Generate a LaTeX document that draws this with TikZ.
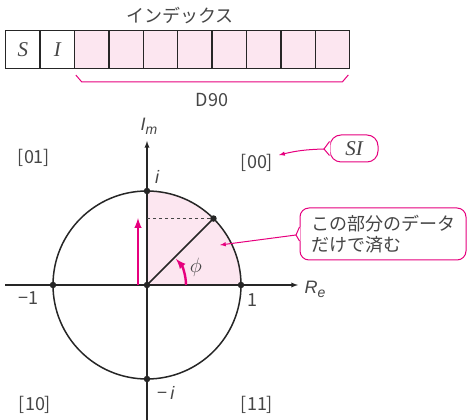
\documentclass[tikz,border=0pt]{standalone}
\usepackage{fontspec}
\setmainfont{Noto Sans CJK JP}
\newfontfamily\lsans{Liberation Sans}
\newfontfamily\lserif{Liberation Serif}
\newcommand{\lsi}{\lsans\itshape}
\newcommand{\lri}{\lserif\itshape\fontsize{21}{21}\selectfont}
\usepackage{xcolor}
\usepackage{tikz}
\usetikzlibrary{calc, positioning}

\definecolor{magenta1}{RGB}{230,0,126}
\definecolor{pink1}{RGB}{252,230,240}
\definecolor{ink}{RGB}{70,70,70}

\begin{document}
\begin{tikzpicture}[>=latex, x=1pt, y=1pt, font=\fontsize{18}{21}\selectfont, text=ink,
    cell/.style={draw=black!85, line width=1.3pt, minimum width=34.4pt, minimum height=38pt, inner sep=0pt, anchor=south west},
    dot/.style={circle, fill=black!85, inner sep=0pt, minimum size=6.5pt},
    callout/.style={draw=magenta1, line width=1pt, fill=white, rounded corners=9pt},
    pinkline/.style={magenta1, line width=1pt}]
    \useasboundingbox (0,0) rectangle (469,420);

    % 1. Tableau des bits
    \node[cell] (c0) at (5,351) {\lri S};
    \node[cell] (c1) at (39.4,351) {\lri I};
    \foreach \k in {2,...,9}
        \node[cell, fill=pink1] (c\k) at ({5+34.4*\k},351) {};
    \node (idx) at (180,404) {インデックス};
    \draw[pinkline] ($(c2.south west)+(2,-6)$) -- ++(6,-7) -- ($(c9.south east)+(-8,-13)$) -- ++(6,7);
    \node (d90) at (212,320) {D90};

    % 2. Cercle unite
    \coordinate (O) at (147,135);
    \fill[pink1] (O) -- ++(94,0) arc[start angle=0, end angle=90, radius=94] -- cycle;
    \coordinate (xl) at (5,135);
    \coordinate (xr) at (298,135);
    \coordinate (yb) at (147,0);
    \coordinate (yt) at (147,279);
    \draw[->, black!85, line width=1.3pt] (xl) -- (xr);
    \draw[->, black!85, line width=1.3pt] (yb) -- (yt);
    \node (re) at (315,131) {\lsi R\raisebox{-4pt}{\fontsize{14}{14}\selectfont e}};
    \node (im) at (149,294) {\lsi I\raisebox{-4pt}{\fontsize{14}{14}\selectfont m}};
    \draw[black!85, line width=1.5pt] (O) circle[radius=94];

    % 3. Points
    \node[dot] (p0) at (O) {};
    \node[dot] (p1) at (241,135) {};
    \node[dot] (pm1) at (53,135) {};
    \node[dot] (pi) at (147,229) {};
    \node[dot] (pmi) at (147,41) {};
    \node[dot] (p45) at ($(O)+(45:94)$) {};
    \draw[black!85, line width=1.5pt] (p0.center) -- (p45.center);
    \draw[dashed, ink, line width=0.9pt] (p45) -- (p45 -| O);

    % 4. Etiquettes
    \node (li) at (157,243) {\lsi i};
    \node (l1) at (252,120) {1};
    \node (lm1) at (28,122) {−1};
    \node (lmi) at (166,27) {−\,\lsi i};
    \node (q01) at (34,262) {[01]};
    \node (q00) at (257,257) {[00]};
    \node (q10) at (35,15) {[10]};
    \node (q11) at (257,15) {[11]};

    % 5. Fleches magenta
    \coordinate (vb) at (138,135);
    \coordinate (vt) at (138,202);
    \draw[->, magenta1, line width=2.4pt] (vb) -- (vt);
    \draw[->, magenta1, line width=2.4pt] ($(O)+(39,0)$) arc[start angle=0, end angle=42, radius=39];
    \node (phi) at (196,153) {\fontsize{21}{21}\selectfont$\phi$};

    % 6. Bulles
    \node[callout, align=left, minimum width=166pt, minimum height=52pt] (note) at (383,186)
        {この部分のデータ\\だけで済む};
    \coordinate (ntail) at (296,185);
    \coordinate (ntip) at (220,175);
    \fill[white] ($(note.west)+(0.8,7)$) -- (ntail) -- ($(note.west)+(0.8,-7)$) -- cycle;
    \draw[pinkline] ($(note.west)+(0,7)$) -- (ntail) -- ($(note.west)+(0,-7)$);
    \draw[pinkline, ->] (ntail) -- (ntip);

    \node[callout, rounded corners=11pt, minimum width=48pt, minimum height=27pt, inner sep=2pt] (si) at (354,271.5) {\lri SI};
    \coordinate (stail) at (324,271);
    \coordinate (stip) at (279,265);
    \fill[white] ($(si.west)+(0.8,7)$) -- (stail) -- ($(si.west)+(0.8,-7)$) -- cycle;
    \draw[pinkline] ($(si.west)+(0,7)$) -- (stail) -- ($(si.west)+(0,-7)$);
    \draw[pinkline, ->] (stail) to[bend right=6] (stip);
\end{tikzpicture}
\end{document}
